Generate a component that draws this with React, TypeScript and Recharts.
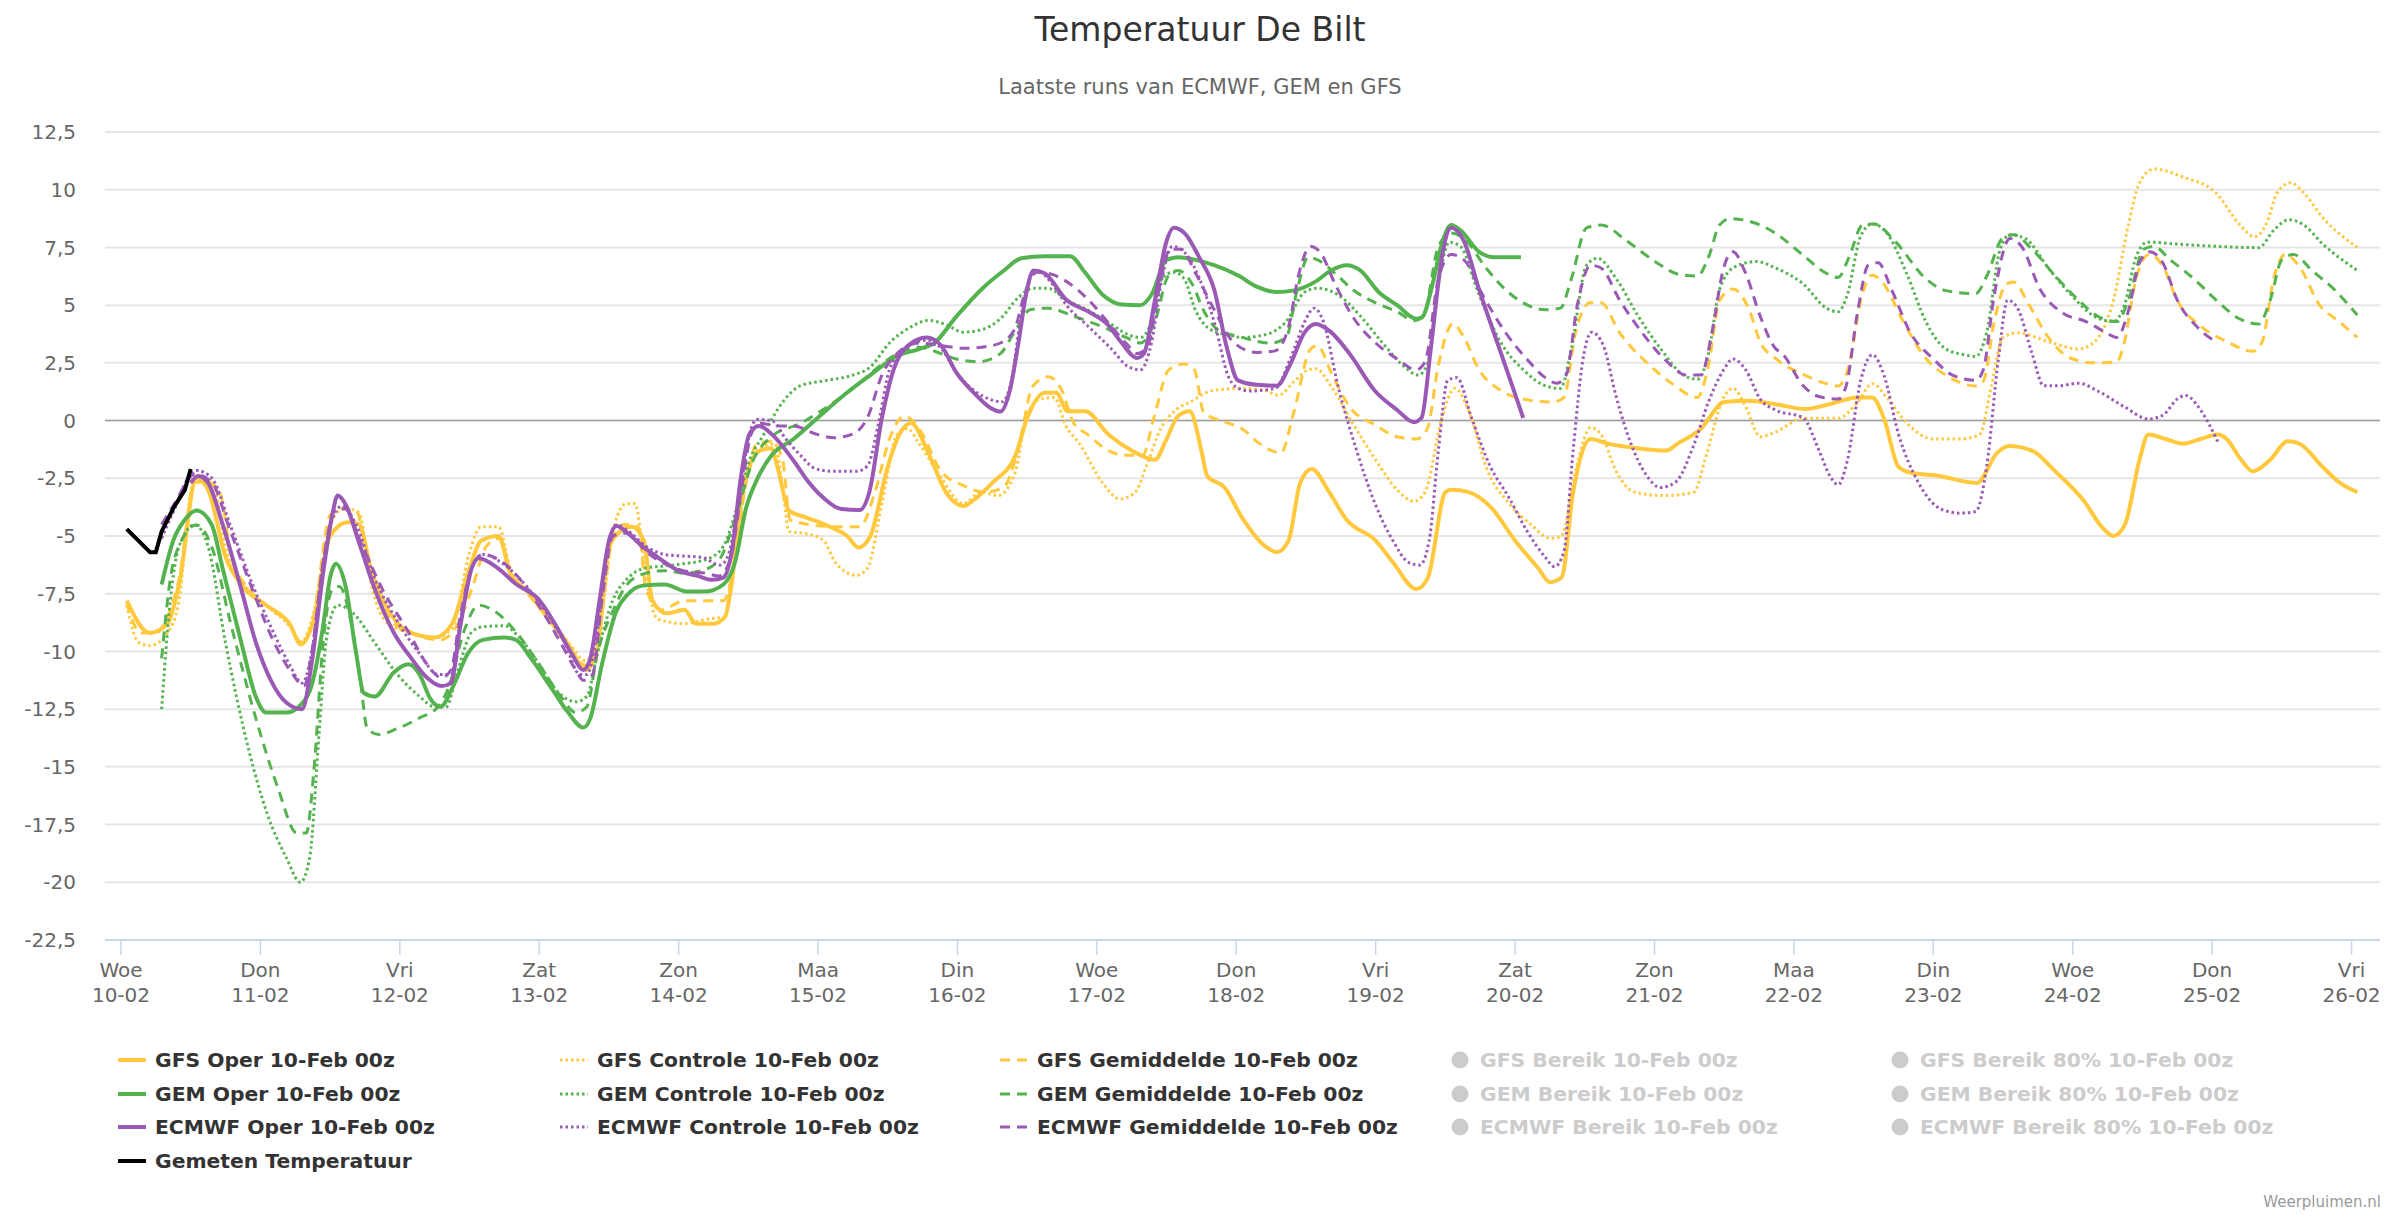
import React from 'react';
import { LineChart, Line, XAxis, YAxis, CartesianGrid, ReferenceLine } from 'recharts';

const FONT = '"DejaVu Sans", "Lucida Grande", Verdana, sans-serif';
const YELLOW = '#ffc83d';
const GREEN = '#55b34f';
const PURPLE = '#9b59b6';

const dayNames = ['Woe', 'Don', 'Vri', 'Zat', 'Zon', 'Maa', 'Din', 'Woe', 'Don', 'Vri', 'Zat', 'Zon', 'Maa', 'Din', 'Woe', 'Don', 'Vri'];
const dayDates = ['10-02', '11-02', '12-02', '13-02', '14-02', '15-02', '16-02', '17-02', '18-02', '19-02', '20-02', '21-02', '22-02', '23-02', '24-02', '25-02', '26-02'];
const yTicks = [12.5, 10, 7.5, 5, 2.5, 0, -2.5, -5, -7.5, -10, -12.5, -15, -17.5, -20, -22.5];

// [hours since 10-02 00z, temperature]
const measured = [[1, -4.7], [3, -5.2], [5, -5.7], [6, -5.7], [7, -4.8], [9, -3.8], [11, -3.0], [12, -2.1]];

const gfsOper = [[1,-7.8],[5,-9.2],[8,-8.8],[10,-7.1],[13,-2.5],[15,-3.0],[18,-5.9],[21,-7.2],[25,-8.0],[29,-8.8],[31,-9.7],[33,-8.8],[36,-5.0],[39,-4.4],[41,-4.5],[43,-6.4],[46,-8.2],[50,-9.2],[54,-9.4],[57,-8.8],[60,-6.4],[62,-5.2],[65,-5.0],[67,-6.6],[70,-7.4],[73,-8.4],[77,-9.7],[80,-10.8],[82,-9.9],[84,-5.5],[86,-4.8],[88,-4.6],[90,-5.2],[91.5,-7.8],[94,-8.35],[97,-8.2],[99,-8.8],[102,-8.8],[104,-8.5],[105,-7.3],[107,-3.1],[110,-1.3],[112,-1.2],[113,-2.0],[115,-3.9],[118,-4.2],[122,-4.6],[125,-5.0],[127,-5.5],[129,-5.0],[132,-2.0],[134,-0.6],[136,-0.1],[139,-1.4],[142,-3.1],[145,-3.7],[147,-3.4],[150,-2.7],[154,-1.5],[156,0.1],[159,1.2],[161,1.2],[163,0.4],[166,0.4],[170,-0.6],[174,-1.3],[178,-1.7],[180,-0.8],[182,0.2],[184,0.4],[186,-1.3],[187,-2.4],[190,-2.9],[193,-4.2],[197,-5.45],[199,-5.7],[201,-5.2],[203,-2.7],[205,-2.1],[208,-3.1],[211,-4.3],[216,-5.2],[219,-6.15],[223,-7.3],[225,-6.8],[228,-3.1],[229,-3.0],[232,-3.1],[236,-3.8],[240,-5.2],[244,-6.4],[246,-7.0],[248,-6.8],[250,-3.1],[253,-0.8],[256,-1.0],[261,-1.2],[266,-1.3],[268,-1.0],[272,-0.35],[276,0.8],[280,0.86],[285,0.7],[290,0.5],[294,0.7],[299,1.0],[301.5,1.0],[303.5,0.1],[306,-2.0],[308,-2.25],[313,-2.4],[319.5,-2.7],[323,-1.4],[325,-1.1],[329,-1.3],[333,-2.2],[338,-3.5],[341,-4.6],[343,-5.0],[345,-4.5],[347.5,-1.7],[349,-0.6],[352,-0.8],[355,-1.0],[358,-0.8],[361,-0.6],[362.5,-0.8],[365,-1.7],[367,-2.2],[370,-1.7],[373,-0.9],[375,-1.0],[379,-2.0],[382,-2.7],[385,-3.1]];

const gfsCtrl = [[1,-8.0],[3,-9.6],[5,-9.75],[8,-9.2],[10,-7.8],[12,-3.1],[13,-2.4],[16,-2.9],[18,-5.5],[21,-7.0],[25,-8.0],[29,-8.9],[31,-9.6],[33,-8.5],[36,-4.5],[38.5,-3.8],[41,-4.0],[43,-7.0],[46,-8.8],[50,-9.2],[54,-9.4],[57,-9.0],[60,-5.7],[62,-4.6],[65,-4.6],[67,-6.4],[70,-7.4],[73,-8.3],[77,-9.6],[80,-10.4],[82,-9.5],[85,-4.5],[87,-3.6],[88.5,-3.6],[90.4,-6.85],[92.4,-8.6],[97,-8.8],[101,-8.6],[104,-8.5],[105,-6.85],[107.6,-2.7],[110,-1.2],[112.6,-1.0],[114,-3.1],[115,-4.8],[118,-4.9],[121,-5.2],[123,-6.15],[126.6,-6.7],[128.5,-6.4],[131,-3.6],[133.6,-0.6],[135.4,-0.35],[137.4,-1.0],[141,-2.4],[145,-3.6],[148,-3.1],[151,-3.25],[154,-2.2],[155.6,-0.1],[158,0.9],[160.7,1.0],[162.6,-0.2],[165,-1.0],[169,-2.7],[172,-3.4],[174.6,-3.1],[176.5,-2.0],[179,-0.35],[181.6,0.46],[184,0.8],[188,1.3],[193,1.4],[197,1.3],[199.3,1.1],[202,1.7],[204.4,2.2],[205.7,2.25],[208.3,1.5],[212,-0.1],[216,-1.7],[219.7,-3.0],[222.6,-3.5],[224.5,-3.1],[227.4,0.1],[229.6,1.4],[232.5,0.1],[235,-2.0],[239,-3.6],[242.7,-4.5],[246,-5.1],[248,-5.0],[250.4,-2.2],[253,-0.3],[254.8,-0.6],[257.4,-2.2],[260.6,-3.1],[265.7,-3.25],[270.8,-3.1],[272.7,-1.7],[275.9,1.0],[277.5,1.4],[279.7,0.6],[282.2,-0.7],[284.8,-0.5],[289.6,0.1],[295.6,0.1],[299,0.8],[301.5,1.6],[304,1.0],[307.4,-0.1],[312,-0.8],[316.6,-0.8],[320,-0.6],[322,1.5],[324,3.6],[326.5,3.8],[332,3.4],[337,3.1],[339.7,3.4],[343,5.2],[345.6,8.5],[347.5,10.3],[350,10.9],[355,10.55],[360.7,9.85],[364.7,8.5],[367.3,7.96],[369.3,8.5],[371.2,9.86],[373.5,10.3],[375.8,9.86],[379,8.8],[385,7.5]];

const gfsMean = [[1,-7.9],[3.4,-9.2],[6,-9.2],[8,-8.5],[10,-6.85],[12.7,-2.67],[15,-2.67],[17,-3.1],[19,-5.9],[22,-7.3],[26,-8.2],[29,-8.8],[31,-9.6],[33,-8.7],[36,-4.1],[38,-3.8],[40.5,-3.9],[42.4,-5.9],[46.3,-8.6],[50.8,-9.3],[55,-9.5],[57.8,-8.9],[60.4,-7.3],[62.9,-5.45],[65,-5.1],[67,-6.6],[70,-7.5],[73,-8.4],[77,-9.8],[80,-10.6],[82,-9.7],[84.7,-5.0],[86.6,-4.5],[89,-4.6],[90.4,-7.3],[93,-8.2],[97,-7.8],[100,-7.8],[103.7,-7.8],[105.3,-6.6],[107.6,-2.7],[109.5,-1.0],[112,-0.9],[113.9,-1.7],[115.2,-4.3],[118.4,-4.5],[123.4,-4.6],[127.2,-4.6],[129.8,-3.1],[132.3,-0.8],[134.9,0.2],[137.4,-0.35],[141.2,-2.2],[144.9,-2.8],[148.7,-3.1],[151.9,-2.9],[154.4,-1.3],[157,1.5],[159.6,1.9],[162,1.3],[164,-0.1],[166.4,-0.6],[170,-1.3],[172.7,-1.5],[175.9,-1.5],[177.8,0.1],[180.4,2.2],[183,2.45],[184.8,2.2],[186.4,0.35],[190.5,-0.1],[193,-0.35],[195.5,-0.9],[199.7,-1.4],[201.9,0.35],[204.8,3.1],[206,3.25],[208.3,2.1],[211.5,0.6],[216,-0.2],[219.7,-0.7],[223,-0.8],[224.9,-0.35],[226.8,2.4],[229.3,4.2],[231.2,3.6],[233.8,2.2],[237.6,1.3],[242,0.9],[246.5,0.8],[248.4,1.0],[250.4,3.8],[252.9,5.1],[254.8,5.1],[258,3.8],[262.5,2.55],[267,1.6],[271.4,1.0],[273.3,2.4],[275.2,5.2],[277.5,5.7],[280.3,4.8],[282.2,3.4],[284.8,2.7],[289.6,2.0],[293.6,1.6],[295.6,1.5],[297.5,2.4],[299.5,5.2],[301.5,6.3],[303.5,5.9],[306.8,4.3],[310.7,2.7],[314.6,1.9],[319.3,1.5],[320.6,1.7],[322.5,4.3],[324.5,5.9],[325.8,6.0],[328.5,5.0],[331.8,3.6],[335.7,2.7],[339.7,2.5],[343.6,2.55],[344.9,3.4],[346.9,6.15],[349.2,7.2],[351.5,6.7],[354,5.2],[358,4.1],[362.7,3.4],[367,3.0],[368.6,3.4],[370.6,6.15],[372.6,7.2],[375.2,6.6],[378.5,5.0],[381.8,4.3],[385,3.6]];

const gemOper = [[7,-7.1],[9,-5.2],[11,-4.3],[13,-3.9],[15.6,-4.5],[17.5,-6.4],[20.7,-9.6],[23.2,-11.95],[25,-12.65],[28.4,-12.65],[31,-12.3],[32.8,-11.5],[34.8,-8.9],[36,-6.8],[37,-6.2],[38.6,-7.1],[40.5,-10.1],[41.8,-11.8],[43.7,-11.95],[47,-10.9],[49.5,-10.56],[51.4,-11.0],[53.3,-12.07],[55,-12.4],[57.2,-11.5],[59.7,-10.1],[62.3,-9.5],[66,-9.4],[68,-9.5],[70.6,-10.3],[74.4,-11.7],[77,-12.65],[79.6,-13.3],[80.8,-12.9],[82.8,-10.56],[85.3,-8.24],[87.2,-7.54],[89.8,-7.15],[93.6,-7.1],[97.4,-7.4],[100.6,-7.4],[103.7,-7.1],[105.7,-6.15],[107.6,-3.8],[109.5,-2.55],[112,-1.5],[115.8,-0.8],[120.3,0.2],[124.7,1.15],[129,1.97],[133.6,2.8],[137.4,3.1],[140,3.36],[143.8,4.5],[148.2,5.7],[152,6.5],[155,7.03],[159,7.12],[163.4,7.12],[166,6.4],[169,5.45],[172.3,5.03],[175.5,5.0],[177.4,5.45],[180,6.96],[182,7.08],[185,6.96],[188.2,6.73],[192.5,6.26],[195.5,5.8],[199,5.57],[202,5.64],[205.7,6.03],[208.3,6.5],[211,6.73],[213.4,6.5],[216.5,5.57],[219.7,5.0],[223,4.41],[224,4.48],[225.8,5.92],[227.4,7.66],[229,8.47],[230.6,8.24],[233.8,7.31],[236.3,7.08],[241,7.08]];

const gemCtrl = [[7,-12.5],[8.5,-7.77],[10,-5.45],[12.7,-4.52],[15,-5.45],[18,-9.63],[22,-14.27],[25.2,-17.05],[28.4,-18.9],[30.9,-20.0],[32.5,-18.9],[34.1,-13.57],[35.4,-9.4],[37.3,-8.0],[40,-8.35],[43.7,-9.63],[47.6,-11.0],[51.4,-11.95],[54,-12.4],[56,-12.4],[57.8,-11.0],[60.4,-9.16],[62.3,-8.93],[66,-8.89],[68.6,-9.4],[72,-10.56],[75,-11.7],[78.3,-12.18],[80.2,-11.95],[82,-10.1],[84.7,-7.77],[87.2,-6.84],[90.4,-6.38],[93.6,-6.3],[96.7,-6.2],[100.6,-6.03],[103.7,-5.45],[105.7,-4.06],[108.2,-1.74],[110.7,-0.58],[113.3,0.58],[117,1.51],[121.5,1.74],[126,1.97],[129,2.32],[132.3,3.36],[136,4.06],[139,4.34],[141.8,4.18],[145,3.83],[148.2,3.94],[151.4,4.41],[154.5,5.34],[157,5.73],[159.6,5.73],[162.8,5.22],[166.6,4.76],[170.4,4.18],[173.5,3.71],[175.5,3.6],[177.4,4.29],[179.2,6.15],[181.2,6.43],[183,6.15],[185,4.76],[187.6,3.94],[190.7,3.71],[193,3.6],[196.8,3.71],[200.6,4.29],[203.8,5.57],[206,5.73],[209.5,5.45],[213.4,4.52],[217.2,3.36],[221,2.32],[223.3,1.97],[224.9,2.44],[226.8,5.92],[228.7,7.73],[230.6,7.54],[233.8,5.45],[237.6,3.36],[241.4,2.2],[245.2,1.51],[247.8,1.39],[249.7,3.13],[252.3,6.73],[254.2,7.03],[257.4,6.15],[261.2,4.52],[265,3.13],[269,1.97],[271.4,1.79],[273.3,2.9],[275.2,5.68],[277.8,6.66],[281.6,6.89],[284.8,6.61],[289.6,5.92],[293.6,4.87],[295.6,4.71],[297.2,5.45],[299.5,8.0],[301.5,8.52],[304,8.12],[307.4,6.38],[310.7,4.29],[314,3.13],[317.3,2.85],[319.3,2.78],[321.2,3.83],[323.5,7.42],[325.2,8.05],[327.8,7.89],[331.8,6.61],[335.7,5.45],[339.7,4.52],[343,4.29],[344.9,4.99],[346.9,7.08],[348.9,7.73],[354.8,7.63],[361.4,7.54],[368,7.49],[370.6,8.24],[373.2,8.7],[375.8,8.47],[379,7.66],[385,6.5]];

const gemMean = [[7,-10.3],[8.5,-6.84],[10.4,-5.22],[12.9,-4.52],[15.6,-5.45],[18.8,-8.7],[23.2,-12.88],[27,-15.9],[30.3,-17.87],[31.9,-17.87],[33.2,-15.2],[34.8,-9.63],[36.4,-7.3],[37.6,-7.19],[39.2,-8.24],[41.2,-11.25],[42.4,-13.34],[44.4,-13.6],[47.6,-13.34],[51.4,-12.88],[54.6,-12.4],[56.5,-11.5],[59,-9.16],[61.6,-8.0],[64.2,-8.24],[68,-9.16],[72,-10.56],[75.7,-11.95],[78.3,-12.65],[80.2,-12.4],[82,-10.1],[84.7,-8.24],[87.2,-7.08],[90.4,-6.61],[93.6,-6.5],[96.8,-6.61],[100,-6.5],[103,-6.03],[105.7,-4.29],[108.8,-1.74],[112,-0.7],[117,-0.12],[121.5,0.58],[126.6,1.51],[130.4,2.32],[133.6,2.9],[137.4,3.18],[141.2,2.9],[143.8,2.67],[147.6,2.55],[151.4,2.9],[153.8,3.83],[156.5,4.8],[159.6,4.87],[164,4.52],[169,4.06],[173,3.6],[175.5,3.36],[178,4.29],[180.3,6.26],[182,6.5],[184.4,5.92],[186.4,4.76],[188.8,3.94],[192.5,3.64],[198,3.36],[200.6,3.6],[202.5,5.68],[204.4,7.08],[206,6.96],[209,6.38],[212,5.68],[216,5.1],[219.7,4.71],[222.6,4.34],[224.2,4.52],[226.8,7.54],[229,8.12],[231.2,7.89],[235,6.61],[238.3,5.68],[241.4,5.1],[245.2,4.8],[247.8,4.87],[249.7,6.15],[252.3,8.35],[254.8,8.47],[259.3,7.77],[264.4,6.84],[268.2,6.33],[271.4,6.26],[273.3,7.08],[275.2,8.47],[277,8.75],[281,8.58],[284.8,8.12],[289.4,7.2],[293.6,6.38],[295.6,6.2],[297.5,7.08],[299.8,8.47],[301.8,8.52],[305.4,7.77],[310.7,6.15],[314,5.64],[319.3,5.5],[321.2,6.26],[323.9,7.89],[325.8,8.05],[329,7.42],[333,6.26],[337,5.22],[340.3,4.52],[343.6,4.29],[345.6,5.22],[348.2,7.42],[350,7.54],[352.8,6.96],[356.8,6.15],[360.7,5.22],[364.7,4.41],[368,4.18],[370,5.22],[372,6.96],[374,7.19],[377.2,6.5],[381,5.68],[385,4.57]];

const ecOper = [[12,-2.7],[13.3,-2.4],[15,-2.7],[17.5,-4.5],[20.7,-7.3],[23.2,-9.6],[25.8,-11.25],[28.4,-12.2],[31.2,-12.5],[32.8,-10.56],[34.8,-6.6],[36.4,-4.06],[37.3,-3.25],[38.6,-3.6],[41.2,-5.45],[43.7,-7.3],[46.9,-9.16],[50,-10.3],[52.7,-11.14],[55.2,-11.5],[56.8,-11.37],[58.4,-8.93],[60.4,-6.38],[61.6,-5.96],[64.8,-6.38],[68,-7.08],[72,-7.77],[75,-8.93],[77.6,-10.1],[79.6,-10.8],[80.8,-10.3],[82.4,-7.77],[84,-5.22],[85.3,-4.57],[87.2,-4.87],[89.8,-5.45],[92.4,-5.92],[96,-6.5],[99.3,-6.73],[101.8,-6.9],[103.7,-6.8],[105.3,-5.45],[106.6,-2.67],[108.2,-0.58],[109.8,-0.23],[112,-0.58],[115.8,-1.74],[118.4,-2.67],[121,-3.36],[124,-3.83],[127.2,-3.87],[128.8,-3.13],[131,0.12],[133,2.2],[135.5,3.25],[138.7,3.6],[141.2,3.25],[143.8,2.09],[147,1.16],[149.5,0.58],[151.4,0.39],[153,1.28],[154.5,3.36],[155.8,5.45],[157.1,6.5],[159,6.38],[162.8,5.22],[166.6,4.71],[169.8,4.18],[172.3,3.36],[174.9,2.71],[176.1,2.9],[178,5.22],[180,7.77],[181.2,8.35],[183.1,8.12],[185.6,7.08],[188.2,5.68],[190.4,3.13],[192.3,1.74],[195.5,1.55],[199,1.51],[201.3,2.44],[203.8,3.83],[205.7,4.18],[208.3,3.83],[211.5,2.9],[215.9,1.28],[219.7,0.46],[222.6,-0.07],[223.9,0.12],[225.5,3.13],[227.4,7.08],[229,8.35],[231.2,7.77],[233.8,5.68],[237.6,2.9],[241.4,0.12]];

const ecCtrl = [[7,-5.1],[9.2,-3.83],[11.7,-2.44],[13,-2.16],[15.6,-2.48],[18.8,-4.52],[22.6,-7.08],[25.8,-8.93],[29,-10.56],[31.2,-11.37],[32.8,-10.1],[34.8,-6.15],[36.7,-4.06],[38,-3.71],[40.5,-4.52],[43.7,-6.84],[47.6,-8.7],[51.4,-10.1],[54.6,-11.0],[56.8,-11.0],[58.4,-8.7],[60.4,-6.38],[62.3,-5.8],[65.5,-6.15],[68.6,-6.84],[73,-8.24],[76.4,-9.63],[79,-11.0],[80.2,-11.0],[82,-9.16],[84,-5.22],[85.3,-4.52],[87.2,-4.76],[90.4,-5.45],[93.6,-5.8],[96.8,-5.87],[100,-5.92],[103.1,-6.26],[104.4,-5.92],[106.3,-3.6],[108.2,-0.58],[109.5,0.05],[112,0],[114.5,-0.81],[117,-1.51],[119.6,-2.09],[122.8,-2.2],[126.6,-2.2],[128.5,-1.97],[130.4,-0.12],[132.3,2.2],[135,3.13],[138.7,3.48],[141.2,3.13],[143.8,2.09],[147,1.28],[149.5,0.93],[151.7,0.81],[153.3,1.74],[154.8,4.29],[156.5,6.15],[157.7,6.5],[160.3,5.92],[162.8,4.99],[166.6,4.06],[170.4,3.13],[173.5,2.32],[175.5,2.2],[177.4,3.36],[179.2,6.15],[181,7.54],[183,7.31],[186.4,5.68],[188.5,4.0],[190.5,2.0],[192,1.45],[194.2,1.28],[198.7,1.39],[201.3,2.67],[203.8,4.29],[205.4,4.87],[207,4.29],[209.5,1.51],[212.7,-1.28],[215.9,-3.6],[219,-5.22],[221.7,-6.15],[223.6,-6.26],[225.2,-5.22],[226.8,-1.28],[228.4,1.74],[230,1.86],[232.5,0.12],[235.7,-1.97],[239,-3.36],[242,-4.76],[245.2,-5.92],[246.8,-6.33],[248.4,-5.68],[250,-1.28],[251.7,2.67],[253.2,3.83],[255.2,3.25],[257.4,1.04],[260,-1.04],[262.5,-2.32],[265,-2.9],[267.6,-2.67],[270.8,-1.04],[273.3,0.81],[275.9,2.2],[277.5,2.67],[279.7,2.2],[282.2,0.93],[284.8,0.46],[289.6,0.12],[292.3,-1.28],[294.3,-2.44],[295.6,-2.78],[297.2,-1.74],[299.5,1.74],[301.5,2.85],[303.5,1.97],[306,-0.58],[309.4,-2.67],[313.3,-3.83],[316.6,-4.01],[319.3,-3.94],[321.2,-1.97],[323.2,2.67],[324.8,5.22],[326.5,4.87],[329,2.9],[331,1.51],[333.7,1.51],[337,1.62],[340.3,1.28],[345,0.58],[349,0.07],[351.5,0.23],[354,0.93],[355.4,1.09],[358,0.46],[361,-0.93]];

const ecMean = [[7,-4.5],[9.2,-3.6],[12.7,-2.32],[15.6,-2.67],[18.8,-4.76],[22.6,-7.3],[26.4,-9.63],[29.6,-11.0],[31.5,-11.5],[32.8,-10.1],[34.8,-6.15],[37,-3.83],[38.6,-3.83],[41.2,-5.22],[45,-7.3],[49.5,-9.16],[52.7,-10.56],[55.2,-11.14],[56.8,-10.8],[58.4,-8.47],[60.4,-6.38],[62.3,-5.8],[65.5,-6.1],[68.6,-6.84],[72.5,-8.24],[75.7,-9.63],[78.3,-10.8],[79.6,-11.25],[81.2,-11.0],[82.8,-7.77],[84.7,-5.0],[87.2,-4.87],[90.4,-5.68],[93.6,-6.2],[96.8,-6.5],[100.6,-6.61],[103,-6.73],[105,-5.92],[107,-2.67],[108.5,-0.58],[110,-0.12],[113.3,-0.23],[115.8,-0.23],[119.6,-0.58],[122.8,-0.74],[126,-0.58],[128.5,0.12],[131,1.97],[133.6,2.9],[137.4,3.36],[141.2,3.25],[145,3.13],[148.2,3.18],[151.4,3.36],[153.8,3.94],[155.8,5.68],[157.7,6.43],[160.3,6.33],[163.4,5.92],[166.6,5.22],[169.8,4.29],[173,3.36],[175,2.9],[176.8,3.25],[178.7,5.68],[180.6,7.42],[182.5,7.42],[185,6.38],[188.2,4.8],[191.5,3.4],[195.5,2.95],[198.7,3.02],[201,4.06],[202.8,6.38],[204.8,7.54],[206.4,7.31],[209,5.92],[212,4.52],[216,3.36],[219.7,2.67],[223,2.2],[224.5,2.55],[226.8,6.15],[229,7.19],[231.2,6.96],[234.4,5.45],[238.3,3.83],[242,2.67],[245.2,1.86],[247.2,1.62],[248.8,1.97],[250.7,4.99],[253,6.73],[254.8,6.61],[258,5.22],[261.8,3.83],[265.7,2.67],[269.5,1.97],[272,1.97],[273.9,3.83],[275.9,6.61],[277.5,7.31],[279.7,6.38],[282.2,4.52],[284.8,3.13],[286,2.9],[289.6,1.51],[292.3,1.04],[295.6,0.93],[297,1.51],[299,4.76],[300.8,6.73],[302.5,6.84],[304.8,5.68],[308,3.83],[312,2.67],[315.3,1.97],[319.3,1.74],[320.6,2.2],[322.5,5.45],[325.2,7.89],[327.2,7.54],[330.4,5.68],[334.4,4.64],[338.3,4.29],[341.6,3.83],[343.6,3.6],[345.6,4.76],[347.5,6.84],[349.2,7.31],[351.5,6.84],[354,5.22],[357.4,4.06],[361,3.36]];

const toPts = (arr: number[][]) => arr.map(([h, v]) => ({ h, v }));

const DOT = '2.5 3';
const DASH = '10 7';

const series = [
  { name: 'GFS Oper', data: gfsOper, color: YELLOW, width: 4, dash: undefined },
  { name: 'GFS Controle', data: gfsCtrl, color: YELLOW, width: 3, dash: DOT },
  { name: 'GFS Gemiddelde', data: gfsMean, color: YELLOW, width: 3, dash: DASH },
  { name: 'GEM Oper', data: gemOper, color: GREEN, width: 4, dash: undefined },
  { name: 'GEM Controle', data: gemCtrl, color: GREEN, width: 3, dash: DOT },
  { name: 'GEM Gemiddelde', data: gemMean, color: GREEN, width: 3, dash: DASH },
  { name: 'ECMWF Oper', data: ecOper, color: PURPLE, width: 4, dash: undefined },
  { name: 'ECMWF Controle', data: ecCtrl, color: PURPLE, width: 3, dash: DOT },
  { name: 'ECMWF Gemiddelde', data: ecMean, color: PURPLE, width: 3, dash: DASH },
];

const legendRows = [
  [['GFS Oper 10-Feb 00z', YELLOW, 'solid'], ['GFS Controle 10-Feb 00z', YELLOW, 'dot'], ['GFS Gemiddelde 10-Feb 00z', YELLOW, 'dash'], ['GFS Bereik 10-Feb 00z', '#ccc', 'off'], ['GFS Bereik 80% 10-Feb 00z', '#ccc', 'off']],
  [['GEM Oper 10-Feb 00z', GREEN, 'solid'], ['GEM Controle 10-Feb 00z', GREEN, 'dot'], ['GEM Gemiddelde 10-Feb 00z', GREEN, 'dash'], ['GEM Bereik 10-Feb 00z', '#ccc', 'off'], ['GEM Bereik 80% 10-Feb 00z', '#ccc', 'off']],
  [['ECMWF Oper 10-Feb 00z', PURPLE, 'solid'], ['ECMWF Controle 10-Feb 00z', PURPLE, 'dot'], ['ECMWF Gemiddelde 10-Feb 00z', PURPLE, 'dash'], ['ECMWF Bereik 10-Feb 00z', '#ccc', 'off'], ['ECMWF Bereik 80% 10-Feb 00z', '#ccc', 'off']],
  [['Gemeten Temperatuur', '#000', 'solid']],
];
const legendCols = [155, 597, 1037, 1480, 1920];
const legendRowY = [1060, 1094, 1127, 1161];

const DayTick = (props: any) => {
  const { x, y, payload } = props;
  const i = Math.round(payload.value / 24);
  return (
    <text x={x} y={y} textAnchor="middle" fill="#666" fontSize={20} fontFamily={FONT}>
      <tspan x={x} dy={20}>{dayNames[i]}</tspan>
      <tspan x={x} dy={25}>{dayDates[i]}</tspan>
    </text>
  );
};

const LegendSymbol = ({ color, kind }: { color: string; kind: string }) => {
  if (kind === 'off') {
    return (
      <svg width={20} height={20} style={{ position: 'absolute', left: -30, top: -10 }}>
        <circle cx={10} cy={10} r={8.5} fill="#ccc" />
      </svg>
    );
  }
  return (
    <svg width={30} height={10} style={{ position: 'absolute', left: -38, top: -5 }}>
      <line x1={1} y1={5} x2={29} y2={5} stroke={color} strokeWidth={kind === 'solid' ? 4 : 3}
        strokeDasharray={kind === 'dot' ? DOT : kind === 'dash' ? DASH : undefined} />
    </svg>
  );
};

export default function App() {
  const ticksX = dayNames.map((_, i) => i * 24);
  return (
    <div style={{ position: 'absolute', left: 0, top: 0, width: 2400, height: 1219, background: '#fff', fontFamily: FONT }}>
      <div style={{ position: 'absolute', left: 0, width: 2400, top: 10, textAlign: 'center', fontSize: 33, color: '#333' }}>
        Temperatuur De Bilt
      </div>
      <div style={{ position: 'absolute', left: 0, width: 2400, top: 75, textAlign: 'center', fontSize: 21, color: '#666' }}>
        Laatste runs van ECMWF, GEM en GFS
      </div>
      <LineChart width={2400} height={1219} margin={{ top: 132, right: 20, bottom: 209, left: 0 }}>
        <CartesianGrid vertical={false} stroke="#e6e6e6" strokeWidth={2} />
        <XAxis
          dataKey="h"
          type="number"
          domain={[-2.75, 388.9]}
          ticks={ticksX}
          interval={0}
          allowDataOverflow
          height={70}
          axisLine={{ stroke: '#ccd6eb', strokeWidth: 2 }}
          tickLine={{ stroke: '#ccd6eb', strokeWidth: 1.5 }}
          tickSize={15}
          tick={<DayTick />}
        />
        <YAxis
          type="number"
          domain={[-22.5, 12.5]}
          ticks={yTicks}
          interval={0}
          width={105}
          axisLine={false}
          tickLine={false}
          tickSize={0}
          tickMargin={29}
          tick={{ fill: '#666', fontSize: 20, fontFamily: FONT }}
          tickFormatter={(v: number) => String(v).replace('.', ',')}
        />
        <ReferenceLine y={0} stroke="#a0a0a0" strokeWidth={1.5} />
        {series.map((s) => (
          <Line
            key={s.name}
            data={toPts(s.data)}
            dataKey="v"
            type="monotone"
            stroke={s.color}
            strokeWidth={s.width}
            strokeDasharray={s.dash}
            dot={false}
            activeDot={false}
            isAnimationActive={false}
          />
        ))}
        <Line
          data={toPts(measured)}
          dataKey="v"
          type="linear"
          stroke="#000"
          strokeWidth={4}
          dot={false}
          activeDot={false}
          isAnimationActive={false}
        />
      </LineChart>
      {legendRows.map((row, r) =>
        row.map(([label, color, kind], c) => (
          <div key={label} style={{ position: 'absolute', left: legendCols[c], top: legendRowY[r], height: 0 }}>
            <LegendSymbol color={color} kind={kind} />
            <div style={{ position: 'absolute', left: 0, top: -14, whiteSpace: 'nowrap', fontSize: 20.3, fontWeight: 'bold', color: kind === 'off' ? '#ccc' : '#333', lineHeight: '28px' }}>
              {label}
            </div>
          </div>
        ))
      )}
      <div style={{ position: 'absolute', right: 19, top: 1193, fontSize: 15, color: '#999' }}>Weerpluimen.nl</div>
    </div>
  );
}
